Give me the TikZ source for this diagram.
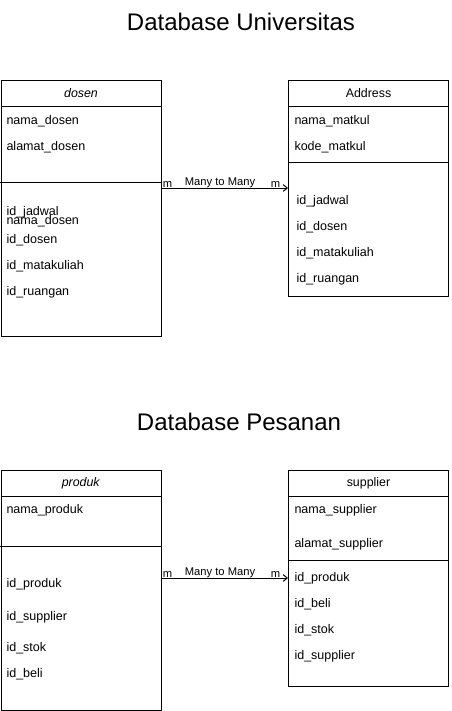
\documentclass[tikz,border=0pt]{standalone}
\usepackage{fontspec}
\setmainfont{Liberation Sans}
\usetikzlibrary{positioning}
\usetikzlibrary{arrows.meta}
\tikzset{every picture/.style={line width=0.75pt}}

\begin{document}
\begin{tikzpicture}[x=0.75pt,y=-0.75pt,ts/.style={draw,anchor=north west,minimum width=120pt,inner sep=0pt},hs/.style={draw,anchor=north west,minimum width=120pt,minimum height=19.5pt,inner sep=0pt,font=\fontsize{9.3}{11}\selectfont},rs/.style={anchor=base west,inner sep=0pt,font=\fontsize{9.4}{11}\selectfont},ls/.style={anchor=base,inner sep=0pt,font=\fontsize{8.4}{10}\selectfont},tt/.style={anchor=base,inner sep=0pt,font=\fontsize{18}{22}\selectfont},ar/.style={-{Straight Barb[length=3pt,width=5pt]}}]
\useasboundingbox (0,0) rectangle (451,711);
\node (t1) [tt] at (241,30) {Database Universitas};
\node (dosen) [ts,minimum height=192pt] at (0.5,80) {};
\node (hd) [hs] at (0.5,80) {\textit{dosen}};
\draw (0.5,182) -- (160.5,182);
\node (d1) [rs] at (6,124) {nama\_dosen};
\node (d2) [rs] at (6,150) {alamat\_dosen};
\node (d3) [rs] at (6,215.5) {id\_jadwal};
\node (d4) [rs] at (6,224) {nama\_dosen};
\node (d5) [rs] at (6,243) {id\_dosen};
\node (d6) [rs] at (6,269) {id\_matakuliah};
\node (d7) [rs] at (6,295) {id\_ruangan};
\node (addr) [ts,minimum height=162pt] at (288,80) {};
\node (ha) [hs] at (288,80) {Address};
\draw (288,162) -- (448,162);
\node (a1) [rs] at (294,124) {nama\_matkul};
\node (a2) [rs] at (294,150) {kode\_matkul};
\node (a3) [rs] at (296,204) {id\_jadwal};
\node (a4) [rs] at (296,230) {id\_dosen};
\node (a5) [rs] at (296,256) {id\_matakuliah};
\node (a6) [rs] at (296,282) {id\_ruangan};
\coordinate (c1) at (224,188);
\draw[ar] (dosen.east |- c1) -- (addr.west |- c1);
\node (m1) [ls] at (167.5,187.5) {m};
\node (mm1) [ls] at (220,185) {Many to Many};
\node (m2) [ls] at (275.5,187.5) {m};
\node (t2) [tt] at (239,430) {Database Pesanan};
\node (produk) [ts,minimum height=180pt] at (0.5,470) {};
\node (hp) [hs] at (0.5,470) {\textit{produk}};
\draw (0.5,546) -- (160.5,546);
\node (p1) [rs] at (6,513.5) {nama\_produk};
\node (p2) [rs] at (6,587.5) {id\_produk};
\node (p3) [rs] at (6,620.5) {id\_supplier};
\node (p4) [rs] at (6,651.5) {id\_stok};
\node (p5) [rs] at (6,677.5) {id\_beli};
\node (supp) [ts,minimum height=162pt] at (288,470) {};
\node (hsu) [hs] at (288,470) {supplier};
\draw (288,560) -- (448,560);
\node (s1) [rs] at (294,513.5) {nama\_supplier};
\node (s2) [rs] at (294,547.5) {alamat\_supplier};
\node (s3) [rs] at (294,581.5) {id\_produk};
\node (s4) [rs] at (294,607.5) {id\_beli};
\node (s5) [rs] at (294,633.5) {id\_stok};
\node (s6) [rs] at (294,659.5) {id\_supplier};
\coordinate (c2) at (224,578);
\draw[ar] (produk.east |- c2) -- (supp.west |- c2);
\node (m3) [ls] at (167.5,577.5) {m};
\node (mm2) [ls] at (220,575) {Many to Many};
\node (m4) [ls] at (275.5,577.5) {m};
\end{tikzpicture}
\end{document}
